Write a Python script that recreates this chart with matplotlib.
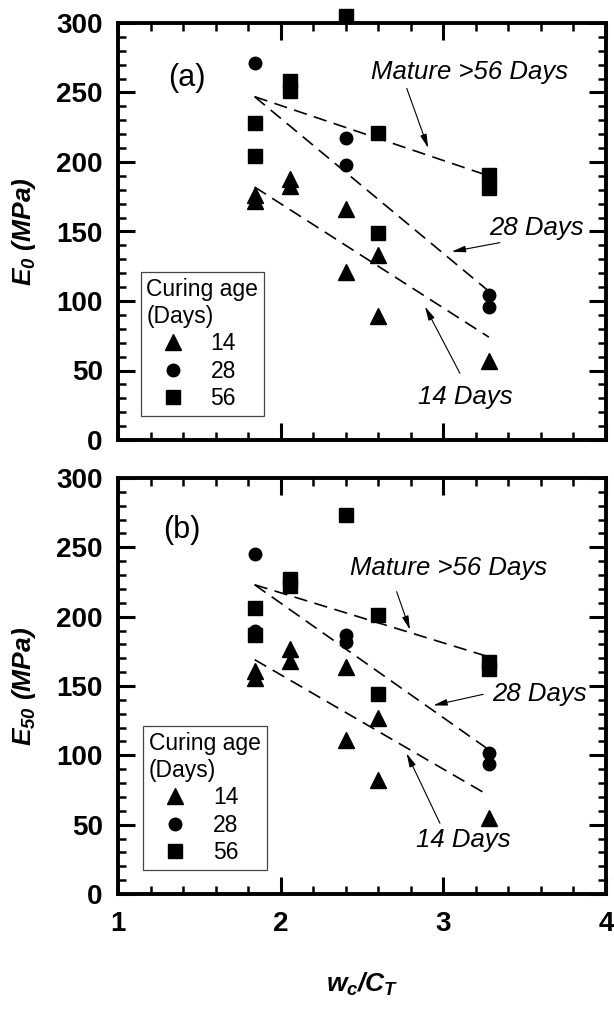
import matplotlib
matplotlib.use('Agg')
import matplotlib.pyplot as plt
from matplotlib.lines import Line2D
from matplotlib.ticker import MultipleLocator

plt.rcParams['font.family'] = ['Liberation Sans', 'DejaVu Sans']
plt.rcParams['mathtext.fontset'] = 'custom'
plt.rcParams['mathtext.it'] = 'Liberation Sans:bold:italic'
plt.rcParams['mathtext.rm'] = 'Liberation Sans:bold:italic'
plt.rcParams['mathtext.bf'] = 'Liberation Sans:bold:italic'

# ---------------- data ----------------
# panel (a): E0 (MPa)
x14_a = [1.84, 1.84, 2.06, 2.06, 2.40, 2.40, 2.60, 2.60, 3.28]
y14_a = [176, 172, 188, 183, 166, 121, 133, 89, 57]
x28_a = [1.84, 1.84, 2.40, 2.40, 3.28, 3.28]
y28_a = [271, 204, 217, 198, 104, 96]
x56_a = [1.84, 1.84, 2.06, 2.06, 2.40, 2.60, 2.60, 3.28, 3.28]
y56_a = [228, 204, 258, 251, 305, 221, 149, 191, 181]

# panel (b): E50 (MPa)
x14_b = [1.84, 1.84, 2.06, 2.06, 2.40, 2.40, 2.60, 2.60, 3.28]
y14_b = [161, 156, 177, 168, 164, 111, 127, 82, 55]
x28_b = [1.84, 1.84, 2.40, 2.40, 3.28, 3.28]
y28_b = [245, 190, 187, 182, 102, 94]
x56_b = [1.84, 1.84, 2.06, 2.06, 2.40, 2.60, 2.60, 3.28, 3.28]
y56_b = [206, 187, 227, 222, 273, 201, 144, 167, 162]

# fitted trend lines (dashed)
fit_x = [1.84, 3.28]
fit_mature_a = [247, 190]
fit_28_a = [247, 107]
fit_14_a = [182, 74]
fit_mature_b = [223, 171]
fit_28_b = [223, 104]
fit_14_b = [169, 71]

legend_labels = ['14', '28', '56']
x_ticks = [1, 2, 3, 4]
y_ticks = [0, 50, 100, 150, 200, 250, 300]

# ---------------- figure ----------------
fig = plt.figure(figsize=(6.14, 10.09), dpi=100)
W, H = 614, 1009
ax_a = fig.add_axes([118 / W, 1 - 440 / H, 488 / W, 417 / H])
ax_b = fig.add_axes([118 / W, 1 - 894 / H, 488 / W, 416 / H])

marker_kw = dict(color='black', linestyle='none', clip_on=False, zorder=3)
ms_tri, ms_cir, ms_sq = 11, 9, 9.5
dash_kw = dict(color='black', lw=1.2, linestyle=(0, (8, 4.5)), zorder=2)
arrow_kw = dict(arrowstyle='-|>,head_length=0.55,head_width=0.13',
                color='black', lw=0.8, shrinkA=0, shrinkB=0, mutation_scale=15)
ann_font = dict(fontsize=18.5, fontstyle='italic', ha='center', va='center')


def style_axes(ax, show_xlabels):
    ax.set_xlim(1, 4)
    ax.set_ylim(0, 300)
    ax.set_xticks(x_ticks)
    ax.set_yticks(y_ticks)
    ax.xaxis.set_minor_locator(MultipleLocator(0.2))
    ax.yaxis.set_minor_locator(MultipleLocator(10))
    ax.tick_params(which='both', direction='in', top=True, right=True)
    ax.tick_params(which='major', length=12, width=2.2)
    ax.tick_params(which='minor', length=6, width=1.8)
    ax.tick_params(axis='y', which='major', pad=11, labelsize=20)
    ax.tick_params(axis='x', which='major', pad=12.5, labelsize=20)
    for lab in ax.get_xticklabels() + ax.get_yticklabels():
        lab.set_fontweight('bold')
    if not show_xlabels:
        ax.tick_params(axis='x', labelbottom=False)
    for sp in ax.spines.values():
        sp.set_linewidth(2.8)


def draw_panel(ax, x14, y14, x28, y28, x56, y56, fm, f28, f14):
    ax.plot(x14, y14, marker='^', markersize=ms_tri, **marker_kw)
    ax.plot(x28, y28, marker='o', markersize=ms_cir, **marker_kw)
    ax.plot(x56, y56, marker='s', markersize=ms_sq, **marker_kw)
    ax.plot(fit_x, fm, **dash_kw)
    ax.plot(fit_x, f28, **dash_kw)
    ax.plot(fit_x, f14, **dash_kw)
    handles = [Line2D([], [], marker='^', markersize=ms_tri, color='black', linestyle='none'),
               Line2D([], [], marker='o', markersize=ms_cir, color='black', linestyle='none'),
               Line2D([], [], marker='s', markersize=ms_sq, color='black', linestyle='none')]
    return handles


# panel (a)
h = draw_panel(ax_a, x14_a, y14_a, x28_a, y28_a, x56_a, y56_a,
               fit_mature_a, fit_28_a, fit_14_a)
style_axes(ax_a, False)
ax_a.text(1.424, 260.5, '(a)', fontsize=22, ha='center', va='center')
ax_a.text(3.16, 265, 'Mature >56 Days', **ann_font)
ax_a.annotate('', xy=(2.907, 210), xytext=(2.775, 253), arrowprops=arrow_kw)
ax_a.text(3.573, 152.5, '28 Days', **ann_font)
ax_a.annotate('', xy=(3.051, 135.5), xytext=(3.348, 142), arrowprops=arrow_kw)
ax_a.text(3.133, 31, '14 Days', **ann_font)
ax_a.annotate('', xy=(2.887, 96), xytext=(3.102, 48), arrowprops=arrow_kw)
ax_a.set_ylabel(r'$E_0$ (MPa)', fontsize=19, fontweight='bold', fontstyle='italic')
ax_a.yaxis.set_label_coords(-0.164, 0.5)

# panel (b)
h = draw_panel(ax_b, x14_b, y14_b, x28_b, y28_b, x56_b, y56_b,
               fit_mature_b, fit_28_b, fit_14_b)
style_axes(ax_b, True)
ax_b.text(1.39, 262.5, '(b)', fontsize=22, ha='center', va='center')
ax_b.text(3.03, 235, 'Mature >56 Days', **ann_font)
ax_b.annotate('', xy=(2.795, 190.5), xytext=(2.713, 218), arrowprops=arrow_kw)
ax_b.text(3.594, 144.5, '28 Days', **ann_font)
ax_b.annotate('', xy=(2.938, 136), xytext=(3.245, 144), arrowprops=arrow_kw)
ax_b.text(3.122, 39, '14 Days', **ann_font)
ax_b.annotate('', xy=(2.774, 101.5), xytext=(2.979, 51), arrowprops=arrow_kw)
ax_b.set_ylabel(r'$E_{50}$ (MPa)', fontsize=19, fontweight='bold', fontstyle='italic')
ax_b.yaxis.set_label_coords(-0.164, 0.5)
ax_b.set_xlabel(r'$w_c/C_T$', fontsize=19, fontweight='bold', fontstyle='italic')
ax_b.xaxis.set_label_coords(0.5, -0.185)

for ax, anchor in ((ax_a, (0.0465, 0.0576)), (ax_b, (0.052, 0.0577))):
    leg = ax.legend(h, legend_labels, title='Curing age\n(Days)', loc='lower left',
                    bbox_to_anchor=anchor, borderaxespad=0, fontsize=16.5,
                    title_fontsize=16.5, alignment='left', frameon=True,
                    fancybox=False, edgecolor='#444444', framealpha=1,
                    borderpad=0.25, handlelength=2.3, handletextpad=0.5,
                    labelspacing=0.2)
    leg.get_frame().set_linewidth(0.9)
    leg.get_title().set_multialignment('left')

fig.savefig('out.png', dpi=100)
